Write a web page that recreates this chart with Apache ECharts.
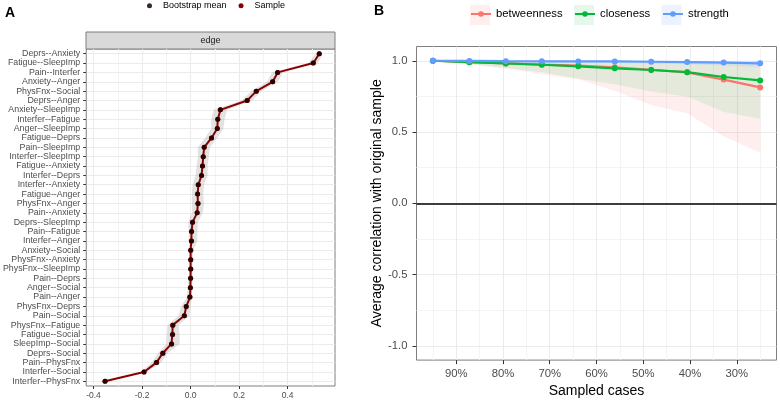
<!DOCTYPE html>
<html><head><meta charset="utf-8">
<script src="https://cdn.jsdelivr.net/npm/echarts@6/dist/echarts.min.js"></script>
<style>html,body{margin:0;padding:0;background:#fff}#c{width:780px;height:403px}</style>
</head><body><div id="c"></div><script>
// ---------- Panel A: edge weights ----------
const edges = ['Deprs--Anxiety','Fatigue--SleepImp','Pain--Interfer','Anxiety--Anger','PhysFnx--Social','Deprs--Anger','Anxiety--SleepImp','Interfer--Fatigue','Anger--SleepImp','Fatigue--Deprs','Pain--SleepImp','Interfer--SleepImp','Fatigue--Anxiety','Interfer--Deprs','Interfer--Anxiety','Fatigue--Anger','PhysFnx--Anger','Pain--Anxiety','Deprs--SleepImp','Pain--Fatigue','Interfer--Anger','Anxiety--Social','PhysFnx--Anxiety','PhysFnx--SleepImp','Pain--Deprs','Anger--Social','Pain--Anger','PhysFnx--Deprs','Pain--Social','PhysFnx--Fatigue','Fatigue--Social','SleepImp--Social','Deprs--Social','Pain--PhysFnx','Interfer--Social','Interfer--PhysFnx'];
const sampleVals = [0.530,0.506,0.359,0.338,0.271,0.233,0.123,0.112,0.110,0.086,0.056,0.052,0.049,0.045,0.032,0.029,0.030,0.027,0.008,0.004,0.003,0.000,0.000,0.000,0.000,-0.001,-0.002,-0.018,-0.026,-0.074,-0.075,-0.079,-0.115,-0.141,-0.192,-0.353];
const bootMeans  = [0.530,0.505,0.358,0.338,0.270,0.233,0.122,0.112,0.110,0.086,0.056,0.052,0.049,0.045,0.031,0.029,0.031,0.027,0.008,0.004,0.004,0.001,0.001,0.001,0.000,-0.001,-0.004,-0.018,-0.026,-0.073,-0.074,-0.078,-0.114,-0.140,-0.192,-0.352];
const ciLow  = [0.515,0.485,0.335,0.315,0.250,0.210,0.095,0.085,0.085,0.060,0.030,0.030,0.025,0.020,0.008,0.005,0.005,0.005,-0.010,-0.008,-0.008,-0.004,-0.004,-0.004,-0.008,-0.012,-0.015,-0.040,-0.050,-0.095,-0.098,-0.100,-0.135,-0.160,-0.205,-0.360];
const ciHigh = [0.545,0.525,0.380,0.360,0.290,0.255,0.150,0.140,0.135,0.110,0.080,0.075,0.070,0.070,0.055,0.052,0.055,0.050,0.030,0.028,0.028,0.010,0.010,0.008,0.008,0.006,0.006,0.000,-0.005,-0.050,-0.045,-0.045,-0.095,-0.120,-0.180,-0.345];
const edgeTicks = [-0.4,-0.2,0,0.2,0.4];
const edgeMinor = [-0.3,-0.1,0.1,0.3,0.5];

// ---------- Panel B: case-dropping stability ----------
const sampledCases = [95,87.2,79.4,71.7,63.9,56.1,48.3,40.6,32.8,25];
const betweenness  = [1.000,0.990,0.981,0.973,0.966,0.954,0.937,0.919,0.868,0.813];
const closeness    = [1.000,0.990,0.981,0.972,0.961,0.947,0.935,0.920,0.886,0.862];
const strength     = [1.000,0.999,0.997,0.996,0.995,0.995,0.993,0.991,0.987,0.982];
const betweennessLow  = [1.000,0.975,0.945,0.905,0.870,0.790,0.690,0.632,0.470,0.354];
const betweennessHigh = [1.000,1.000,1.000,1.000,1.000,1.000,1.000,0.996,0.992,0.985];
const closenessLow    = [1.000,0.977,0.950,0.920,0.873,0.835,0.785,0.750,0.640,0.594];
const closenessHigh   = [1.000,1.000,1.000,1.000,1.000,1.000,1.000,0.998,0.994,0.990];
const strengthLow     = [1.000,0.998,0.995,0.991,0.988,0.985,0.980,0.975,0.966,0.955];
const strengthHigh    = [1.000,1.000,1.000,1.000,1.000,1.000,1.000,1.000,1.000,1.000];
const casesTicks = [90,80,70,60,50,40,30];
const casesMinor = [95,85,75,65,55,45,35,25];
const corrTicks = [-1,-0.5,0,0.5,1];
const corrMinor = [-0.75,-0.25,0.25,0.75];

const FONT = '"Liberation Sans", Arial, sans-serif';
const GRID_MAJOR = '#ebebeb', GRID_MINOR = '#f4f4f4', TICK = '#333', LAB = '#4d4d4d';
const COL = {betweenness:'#F8766D', closeness:'#00BA38', strength:'#619CFF'};
const FILL = {betweenness:'rgba(248,118,109,0.12)', closeness:'rgba(0,186,56,0.10)', strength:'rgba(97,156,255,0.12)'};

function band(xIdx, yIdx, lowArr, highArr, posFn, fill, z) {
  return {
    type:'custom', xAxisIndex:xIdx, yAxisIndex:yIdx, silent:true, z:z,
    data:[[0,0]],
    renderItem:function(params, api){
      const pts = [];
      for (let i=0;i<highArr.length;i++) pts.push(api.coord(posFn(highArr[i], i)));
      for (let i=lowArr.length-1;i>=0;i--) pts.push(api.coord(posFn(lowArr[i], i)));
      return {type:'polygon', shape:{points:pts}, style:{fill:fill, stroke:null}};
    }
  };
}
// grid lines drawn as marker lines positioned by the axes' own scales
function gridLines(xIdx, yIdx, anchor, key, vals, color) {
  return {
    type:'line', xAxisIndex:xIdx, yAxisIndex:yIdx, silent:true, z:0,
    data:[anchor], showSymbol:false, symbol:'none', lineStyle:{opacity:0},
    markLine:{silent:true, z:0, zlevel:0, symbol:['none','none'], label:{show:false}, animation:false,
      lineStyle:{color:color, width:1, type:'solid'},
      emphasis:{disabled:true},
      data: vals.map(function(v){ const o = {}; o[key] = v; return o; })}
  };
}

const chart = echarts.init(document.getElementById('c'), null, {renderer:'canvas'});

const bSeries = [
  gridLines(1,1,[60,0],'xAxis',casesMinor,GRID_MINOR),
  gridLines(1,1,[60,0],'yAxis',corrMinor,GRID_MINOR),
  gridLines(1,1,[60,0],'xAxis',casesTicks,GRID_MAJOR),
  gridLines(1,1,[60,0],'yAxis',corrTicks,GRID_MAJOR)
];
[['betweenness',betweennessLow,betweennessHigh],['closeness',closenessLow,closenessHigh],['strength',strengthLow,strengthHigh]].forEach(function(r){
  bSeries.push(band(1,1,r[1],r[2],function(v,i){return [sampledCases[i], v];}, FILL[r[0]], 1));
});
const lineVals = {betweenness:betweenness, closeness:closeness, strength:strength};
['betweenness','closeness','strength'].forEach(function(n){
  const s = {
    name:n, type:'line', xAxisIndex:1, yAxisIndex:1, z:3,
    data: sampledCases.map(function(x,i){return [x, lineVals[n][i]];}),
    symbol:'circle', symbolSize:6, color:COL[n],
    lineStyle:{width:2.2, color:COL[n]}, itemStyle:{color:COL[n]}
  };
  if (n==='strength') {
    s.markLine = {silent:true, symbol:['none','none'], label:{show:false}, z:2,
      lineStyle:{color:'#000', width:1.6, type:'solid'}, data:[{yAxis:0}]};
  }
  bSeries.push(s);
});

const legendText = {fontSize:11.3, color:'#000', fontFamily:FONT};
const option = {
  animation:false,
  textStyle:{fontFamily:FONT},
  grid:[
    {left:86, top:49, width:249, height:337, show:true, borderColor:'#7f7f7f', borderWidth:1},
    {left:416.5, top:46.5, width:360, height:319, show:true, borderColor:'#7f7f7f', borderWidth:1}
  ],
  legend:[
    {data:['Bootstrap mean','Sample'], left:147, top:1.2, padding:0, icon:'circle', itemWidth:17, itemHeight:5, itemGap:12,
     textStyle:{fontSize:9, color:'#000', fontFamily:FONT}, selectedMode:false},
    {data:['betweenness'], left:470, top:8.5, padding:0, itemWidth:20, itemHeight:7, textStyle:legendText, selectedMode:false},
    {data:['closeness'], left:574, top:8.5, padding:0, itemWidth:20, itemHeight:7, textStyle:legendText, selectedMode:false},
    {data:['strength'], left:662, top:8.5, padding:0, itemWidth:20, itemHeight:7, textStyle:legendText, selectedMode:false}
  ],
  graphic:[
    {type:'text', left:5, top:6, style:{text:'A', font:'bold 14px '+FONT, fill:'#000'}},
    {type:'text', left:374, top:4, style:{text:'B', font:'bold 14px '+FONT, fill:'#000'}},
    {type:'rect', shape:{x:86, y:32, width:249, height:17}, style:{fill:'#d9d9d9', stroke:'#7f7f7f', lineWidth:1}, z:0},
    {type:'text', x:210.5, y:40.5, style:{text:'edge', font:'9px '+FONT, fill:'#1a1a1a', align:'center', verticalAlign:'middle'}, z:1},
    {type:'rect', shape:{x:470, y:5, width:20, height:20}, style:{fill:FILL.betweenness}, z:0},
    {type:'rect', shape:{x:574, y:5, width:20, height:20}, style:{fill:FILL.closeness}, z:0},
    {type:'rect', shape:{x:661.5, y:5, width:20, height:20}, style:{fill:FILL.strength}, z:0}
  ],
  xAxis:[
    {gridIndex:0, type:'value', min:-0.43, max:0.595,
     axisLine:{show:false, onZero:false},
     axisTick:{show:true, length:3, lineStyle:{color:TICK}, customValues:edgeTicks},
     axisLabel:{customValues:edgeTicks, fontSize:8.5, color:LAB, margin:5, formatter:function(v){return v.toFixed(1);}},
     splitLine:{show:false}},
    {gridIndex:1, type:'value', min:21.5, max:98.5, inverse:true,
     name:'Sampled cases', nameLocation:'middle', nameGap:21, nameTextStyle:{fontSize:14, color:'#000', fontFamily:FONT},
     axisLine:{show:false, onZero:false},
     axisTick:{show:true, length:4, lineStyle:{color:TICK}, customValues:casesTicks},
     axisLabel:{customValues:casesTicks, fontSize:11.3, color:LAB, margin:8, formatter:function(v){return v+'%';}},
     splitLine:{show:false}}
  ],
  yAxis:[
    {gridIndex:0, type:'category', data:edges, inverse:true,
     axisLine:{show:false, onZero:false},
     axisTick:{show:true, length:3, alignWithLabel:true, lineStyle:{color:TICK}},
     axisLabel:{fontSize:8.8, color:LAB, margin:6, interval:0},
     splitLine:{show:false}},
    {gridIndex:1, type:'value', min:-1.1, max:1.1,
     name:'Average correlation with original sample', nameLocation:'middle', nameGap:24,
     nameTextStyle:{fontSize:14, color:'#000', fontFamily:FONT},
     axisLine:{show:false, onZero:false},
     axisTick:{show:true, length:4, lineStyle:{color:TICK}, customValues:corrTicks},
     axisLabel:{customValues:corrTicks, fontSize:11.3, color:LAB, margin:9, formatter:function(v){return v.toFixed(1);}},
     splitLine:{show:false}}
  ],
  series:[
    gridLines(0,0,[0, edges[0]],'xAxis',edgeMinor,GRID_MINOR),
    gridLines(0,0,[0, edges[0]],'xAxis',edgeTicks,GRID_MAJOR),
    gridLines(0,0,[0, edges[0]],'yAxis',edges,GRID_MAJOR),
    band(0,0,ciLow,ciHigh,function(v,i){return [v, i];}, 'rgba(150,150,150,0.28)', 1),
    {name:'Sample', type:'line', xAxisIndex:0, yAxisIndex:0, z:3,
     data: sampleVals.map(function(v,i){return [v, edges[i]];}),
     symbol:'circle', symbolSize:5, color:'#8B0000',
     lineStyle:{width:2, color:'#8B0000'}, itemStyle:{color:'#8B0000'}},
    {name:'Bootstrap mean', type:'scatter', xAxisIndex:0, yAxisIndex:0, z:4,
     data: bootMeans.map(function(v,i){return [v, edges[i]];}),
     symbolSize:5, color:'#000', itemStyle:{color:'#1a0000', opacity:0.85}}
  ].concat(bSeries)
};
chart.setOption(option);
</script></body></html>
